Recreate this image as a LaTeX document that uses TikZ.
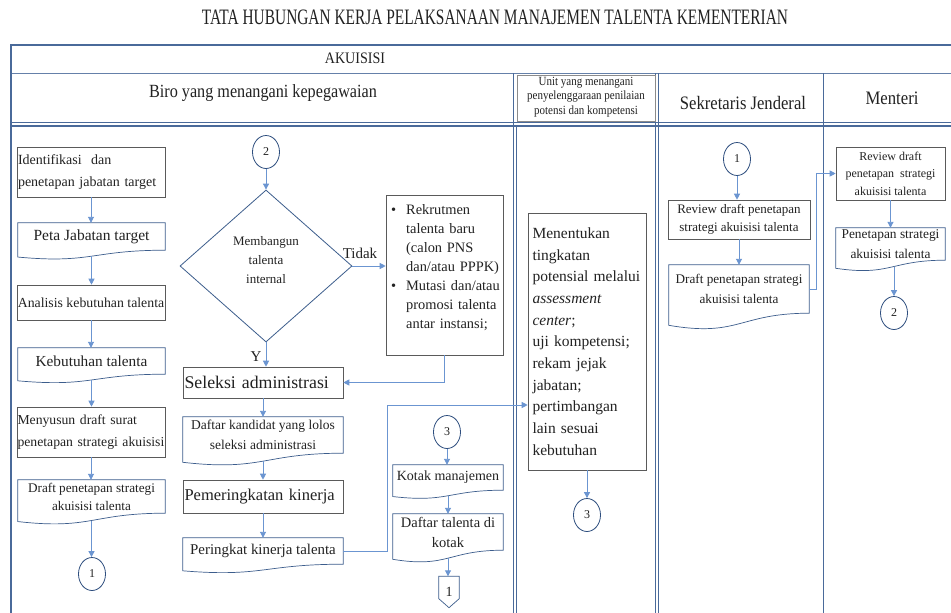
\documentclass[tikz,border=0pt]{standalone}
\usepackage{fontspec}
\setmainfont{Liberation Serif}
\usetikzlibrary{calc,shapes.geometric,arrows.meta}
\definecolor{framec}{HTML}{4A6A9A}
\definecolor{arrowc}{HTML}{6B95D1}
\definecolor{procc}{HTML}{5A5A5A}
\definecolor{docc}{HTML}{3C5D8C}
\definecolor{circc}{HTML}{2E4E7E}
\definecolor{txt}{HTML}{222222}
\newcommand\fsz[2]{\fontsize{#1}{#2}\selectfont}
\newcommand\docout[1]{%
 \draw[docline] let \p1=(#1.north west), \p2=(#1.south east), \n1={\y1-\y2}, \n2={0.5*\x1+0.5*\x2} in
  (\x2,\y1) -- (\x1,\y1) -- (\x1,{\y2-0.25*\n1*1pt}) .. controls ({\n2*1pt},{\y2-0.5*\n1*1pt}) and ({\n2*1pt},\y2) .. (\x2,\y2) -- cycle;
 \path let \p1=(#1.north west), \p2=(#1.south east), \n1={\y1-\y2}, \n2={0.5*\x1+0.5*\x2} in
  ({\n2*1pt},{\y2-0.219*\n1*1pt}) coordinate (#1-b);
}
\newcommand\pentout[1]{\draw[docline] (#1.north west) -- (#1.north east) -- ([yshift=9pt]#1.south east) -- (#1.south) -- ([yshift=9pt]#1.south west) -- cycle;}
\begin{document}
\begin{tikzpicture}[x=1pt,y=-1pt,
 every node/.style={text=txt},
 proc/.style={draw=procc,line width=0.6pt,rectangle,inner sep=0pt,align=center},
 docn/.style={rectangle,inner sep=0pt,align=center},
 docline/.style={draw=docc,line width=0.7pt},
 conn/.style={ellipse,draw=circc,line width=0.8pt,minimum width=27pt,minimum height=33pt,inner sep=0pt,font=\fsz{12}{14}},
 arr/.style={draw=arrowc,line width=0.9pt,-{Triangle[length=6pt,width=6pt]}},
 lane/.style={draw=framec,line width=0.8pt},
]
\fill[white] (0,0) rectangle (951,613);
\useasboundingbox (0,0) rectangle (951,613);

% frame
\draw[framec,line width=1.4pt] (11,45) -- (951,45);
\draw[framec!85,line width=1pt] (11,73) -- (951,73);
\draw[framec,line width=1.1pt] (11,122.5) -- (951,122.5);
\draw[framec,line width=1.1pt] (11,126) -- (951,126);
\draw[framec,line width=1.3pt] (11,44.3) -- (11,613);
\draw[lane] (513,73) -- (513,613);
\draw[lane] (516.5,126) -- (516.5,613);
\draw[lane] (655,73) -- (655,613);
\draw[lane] (658.5,73) -- (658.5,613);
\draw[lane] (823,73) -- (823,613);
\draw[procc!70,line width=0.6pt] (517,75) rectangle (655,121);

% headers
\node[font=\fsz{22}{24},xscale=0.70] (title) at (495,17) {TATA HUBUNGAN KERJA PELAKSANAAN MANAJEMEN TALENTA KEMENTERIAN};
\node[font=\fsz{16}{18},xscale=0.88] (akuisisi) at (355,58) {AKUISISI};
\node[font=\fsz{18.6}{20},xscale=0.87] (biro) at (263,93) {Biro yang menangani kepegawaian};
\node[font=\fsz{12.5}{14.5},xscale=0.88,align=center] (unit) at (586,97) {Unit yang menangani\\penyelenggaraan penilaian\\potensi dan kompetensi};
\node[font=\fsz{19}{20},xscale=0.875] (sekjen) at (743,103) {Sekretaris Jenderal};
\node[font=\fsz{19}{20},xscale=0.88] (menteri) at (892,98) {Menteri};

% column 1
\node[proc,minimum width=148pt,minimum height=50pt,text width=146pt,align=left,font=\fsz{14}{22}] (A1) at (91,172) {Identifikasi~ dan\\penetapan jabatan target};
\node[docn,minimum width=147pt,minimum height=27pt,font=\fsz{15.5}{18}] (A2) at (91.5,236.5) {Peta Jabatan target};
\node[proc,minimum width=148pt,minimum height=35pt,font=\fsz{13.8}{18}] (A3) at (91,302.5) {Analisis kebutuhan talenta};
\node[docn,minimum width=147pt,minimum height=26pt,font=\fsz{15.3}{18}] (A4) at (91.5,361) {Kebutuhan talenta};
\node[proc,minimum width=148pt,minimum height=50pt,text width=147pt,align=left,font=\fsz{13.7}{22}] (A5) at (91,432) {Menyusun draft surat\\penetapan strategi akuisisi};
\node[docn,minimum width=147pt,minimum height=33pt,font=\fsz{13.2}{18}] (A6) at (91.5,496.5) {Draft penetapan strategi\\akuisisi talenta};
\node[conn] (A7) at (92,574) {1};

% column 2
\node[conn] (B1) at (266,152) {2};
\node[diamond,draw=docc,line width=0.8pt,minimum width=172pt,minimum height=152pt,inner sep=0pt] (B2) at (266,266) {};
\node[align=center,font=\fsz{13}{19}] (B2t) at (266,260) {Membangun\\talenta\\internal};
\node[font=\fsz{15}{17}] (tidak) at (360,253) {Tidak};
\node[font=\fsz{15}{17}] (ylab) at (256,357) {Y};
\node[proc,minimum width=160pt,minimum height=31pt,text width=157pt,align=left,font=\fsz{17.8}{20}] (B3) at (263,382.5) {Seleksi administrasi};
\node[docn,minimum width=160pt,minimum height=36pt,font=\fsz{13.5}{20}] (B4) at (263,435) {Daftar kandidat yang lolos\\seleksi administrasi};
\node[proc,minimum width=160pt,minimum height=33pt,text width=157pt,align=left,font=\fsz{16.5}{20}] (B5) at (263,496.5) {Pemeringkatan kinerja};
\node[docn,minimum width=160pt,minimum height=26pt,font=\fsz{14.9}{18}] (B6) at (263,551) {Peringkat kinerja talenta};

% bullet box
\node[draw=procc,line width=0.6pt,minimum width=117pt,minimum height=160pt,inner sep=0pt] (BB) at (444.5,275) {};
\node[anchor=north west,inner sep=0pt,align=left,font=\fsz{14.4}{19},text width=140pt] (BBt) at (391,204.5) {\makebox[15pt][l]{\textbullet}Rekrutmen\\\hspace*{15pt}talenta baru\\\hspace*{15pt}(calon PNS\\\hspace*{15pt}dan/atau PPPK)\\\makebox[15pt][l]{\textbullet}Mutasi dan/atau\\\hspace*{15pt}promosi talenta\\\hspace*{15pt}antar instansi;};

% column 2b
\node[conn] (C1) at (447,432) {3};
\node[docn,minimum width=110pt,minimum height=25pt,font=\fsz{14}{18}] (C2) at (448,477.5) {Kotak manajemen};
\node[docn,minimum width=110pt,minimum height=36pt,font=\fsz{14.5}{20}] (C3) at (448,532) {Daftar talenta di\\kotak};
\node[minimum width=20pt,minimum height=31pt,inner sep=0pt,font=\fsz{14}{16}] (C4) at (449,592) {1};

% column 3
\node[proc,minimum width=118pt,minimum height=257pt,text width=109pt,align=left,font=\fsz{15.5}{21.7}] (M) at (587,341.5) {Menentukan\\tingkatan\\potensial melalui\\\textit{assessment}\\\textit{center};\\uji kompetensi;\\rekam jejak\\jabatan;\\pertimbangan\\lain sesuai\\kebutuhan};
\node[conn] (M3) at (587,515) {3};

% column 4
\node[conn] (S1) at (737,159) {1};
\node[proc,minimum width=142pt,minimum height=39pt,font=\fsz{13}{18}] (S2) at (739,219.5) {Review draft penetapan\\strategi akuisisi talenta};
\node[docn,minimum width=140pt,minimum height=48pt,font=\fsz{13.2}{20}] (S3) at (739,289) {Draft penetapan strategi\\akuisisi talenta};

% column 5
\node[proc,minimum width=109pt,minimum height=53pt,font=\fsz{12}{17.5}] (T1) at (890.5,173.5) {Review draft\\penetapan~ strategi\\akuisisi talenta};
\node[docn,minimum width=109pt,minimum height=32pt,font=\fsz{13.4}{20}] (T2) at (890.5,244) {Penetapan strategi\\akuisisi talenta};
\node[conn] (T3) at (894,313) {2};

% document outlines
\docout{A2}\docout{A4}\docout{A6}
\docout{B4}\docout{B6}
\docout{C2}\docout{C3}
\docout{S3}\docout{T2}
\pentout{C4}

% connectors column 1
\draw[arr] (A1.south) -- (A1.south |- A2.north);
\draw[arr] (A2-b) -- (A2-b |- A3.north);
\draw[arr] (A3.south) -- (A3.south |- A4.north);
\draw[arr] (A4-b) -- (A4-b |- A5.north);
\draw[arr] (A5.south) -- (A5.south |- A6.north);
\draw[arr] (A6-b) -- (A6-b |- A7.north);

% connectors column 2
\draw[arr] (B1.south) -- (B2.north);
\draw[arr] (B2.east) -- (B2.east -| BB.west);
\draw[arr] (B2.south) -- (B2.south |- B3.north);
\draw[arr] (BB.south) |- (B3.east);
\draw[arr] (B3.south) -- (B3.south |- B4.north);
\draw[arr] (B4-b) -- (B4-b |- B5.north);
\draw[arr] (B5.south) -- (B5.south |- B6.north);
\coordinate (k1) at (387,405);
\draw[arr] (B6.east) -| (k1) -- (k1 -| M.west);

% connectors column 2b
\draw[arr] (C1.south) -- (C1.south |- C2.north);
\draw[arr] (C2-b) -- (C2-b |- C3.north);
\draw[arr] (C3-b) -- (C3-b |- C4.north);

% column 3
\draw[arr] (M.south) -- (M3.north);

% column 4 and 5
\draw[arr] (S1.south) -- (S1.south |- S2.north);
\draw[arr] (S2.south) -- (S2.south |- S3.north);
\coordinate (k2) at (816,173.5);
\draw[arr] (S3.east) -| (k2) -- (T1.west);
\draw[arr] (T1.south) -- (T1.south |- T2.north);
\draw[arr] (T3.north |- T2-b) -- (T3.north);
\end{tikzpicture}
\end{document}
